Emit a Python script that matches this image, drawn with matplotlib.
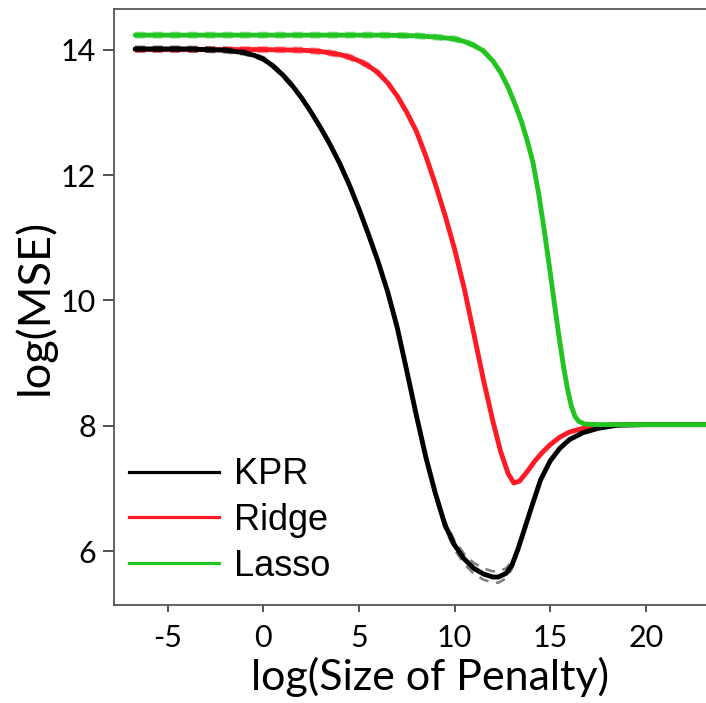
import matplotlib
matplotlib.use("Agg")
import matplotlib.pyplot as plt
import numpy as np

# ---- data ----
kpr_x = [-6.7, -5, -4, -3, -2, -1.5, -1, -0.5, 0, 0.5, 1, 1.5, 2, 2.5, 3, 3.5, 4, 4.5, 5, 5.5,
         6, 6.5, 7, 7.5, 8, 8.5, 9, 9.5, 10, 10.5, 11, 11.5, 12, 12.3, 12.7, 13, 13.3, 13.6,
         14, 14.5, 15, 15.5, 16, 16.7, 17.5, 18.5, 20, 23.3]
kpr_y = [14.01, 14.01, 14.01, 14.0, 13.99, 13.97, 13.95, 13.91, 13.85, 13.74, 13.6, 13.43, 13.23,
         13.0, 12.75, 12.48, 12.18, 11.84, 11.46, 11.05, 10.62, 10.14, 9.57, 8.88, 8.17, 7.5, 6.92,
         6.42, 6.1, 5.88, 5.73, 5.64, 5.59, 5.59, 5.65, 5.78, 6.02, 6.3, 6.68, 7.14, 7.44, 7.64,
         7.78, 7.89, 7.96, 8.01, 8.02, 8.02]
kpr_se = [0.035, 0.035, 0.035, 0.035, 0.035, 0.03, 0.03, 0.03, 0.03, 0.03, 0.03, 0.03, 0.02,
          0.02, 0.02, 0.02, 0.02, 0.02, 0.02, 0.02, 0.02, 0.02, 0.02, 0.02, 0.03, 0.04, 0.05,
          0.06, 0.07, 0.08, 0.085, 0.09, 0.09, 0.09, 0.08, 0.06, 0.04, 0.03, 0.02, 0.015, 0.01,
          0.01, 0.01, 0.01, 0.01, 0.01, 0.01, 0.01]

ridge_x = [-6.7, 0, 2, 3, 4, 4.5, 5, 5.5, 6, 6.5, 7, 7.5, 8, 8.5, 9, 9.5, 10, 10.5, 11, 11.5,
           12, 12.4, 12.8, 13.1, 13.4, 13.8, 14.2, 14.6, 15, 15.5, 16, 16.7, 17.5, 18.5, 23.3]
ridge_y = [14.0, 14.0, 13.99, 13.97, 13.92, 13.88, 13.82, 13.74, 13.63, 13.47, 13.26, 13.0, 12.7,
           12.3, 11.85, 11.36, 10.82, 10.2, 9.48, 8.75, 8.08, 7.6, 7.24, 7.09, 7.12, 7.27, 7.44,
           7.58, 7.7, 7.82, 7.9, 7.96, 8.0, 8.02, 8.02]
ridge_se = [0.035, 0.035, 0.035, 0.035, 0.035, 0.035, 0.035, 0.035, 0.035, 0.03, 0.03, 0.025,
            0.02, 0.02, 0.015, 0.015, 0.01, 0.01, 0.01, 0.01, 0.01, 0.01, 0.01, 0.01, 0.01, 0.01,
            0.01, 0.01, 0.01, 0.01, 0.01, 0.01, 0.01, 0.01, 0.01]

lasso_x = [-6.7, 6, 8, 9, 10, 10.5, 11, 11.5, 12, 12.4, 12.8, 13.2, 13.5, 13.8, 14.1, 14.4, 14.7,
           15.0, 15.2, 15.45, 15.7, 15.9, 16.1, 16.3, 16.5, 16.8, 17.5, 23.3]
lasso_y = [14.23, 14.23, 14.22, 14.2, 14.17, 14.13, 14.07, 13.98, 13.82, 13.64, 13.4, 13.1, 12.85,
           12.55, 12.2, 11.7, 11.1, 10.45, 10.0, 9.45, 8.94, 8.6, 8.32, 8.15, 8.07, 8.03, 8.02, 8.02]
lasso_se = [0.035, 0.035, 0.035, 0.035, 0.035, 0.035, 0.03, 0.03, 0.025, 0.02, 0.015, 0.01, 0.01,
            0.01, 0.01, 0.01, 0.01, 0.01, 0.01, 0.01, 0.01, 0.01, 0.01, 0.01, 0.01, 0.01, 0.01, 0.01]

labels = ["KPR", "Ridge", "Lasso"]
colors = ["#000000", "#ff1a26", "#22c422"]
z_order = [4, 3, 5]

x_ticks = [-5, 0, 5, 10, 15, 20]
y_ticks = [6, 8, 10, 12, 14]

# ---- figure ----
fig = plt.figure(figsize=(7.06, 7.03), dpi=100)
ax = fig.add_axes([114 / 706, (703 - 605) / 703, 1 - 114 / 706, (605 - 9.3) / 703])

series = [(kpr_x, kpr_y, kpr_se), (ridge_x, ridge_y, ridge_se), (lasso_x, lasso_y, lasso_se)]
for (xs, ys, se), c, z in zip(series, colors, z_order):
    xs = np.array(xs); ys = np.array(ys); se = np.array(se)
    ax.plot(xs, ys, color=c, lw=3.5, solid_capstyle="round", solid_joinstyle="round", zorder=z)
    for sgn in (1, -1):
        ax.plot(xs, ys + sgn * se, color=c, lw=1.8, ls=(0, (4, 3)), alpha=0.5, zorder=z + 0.5)

handles = [plt.Line2D([], [], color=c, lw=2.3) for c in colors]
leg = ax.legend(handles, labels, loc="lower left", bbox_to_anchor=(-0.017, -0.007),
                frameon=False, prop={"family": "Liberation Sans", "size": 26},
                handlelength=2.5, handletextpad=0.4, labelspacing=0.3, borderaxespad=0.3)

ax.set_xlim(-7.81, 23.15)
ax.set_ylim(5.144, 14.642)
ax.set_xticks(x_ticks)
ax.set_yticks(y_ticks)
ax.set_xticklabels([str(v) for v in x_ticks], family="Lato", fontsize=22)
ax.set_yticklabels([str(v) for v in y_ticks], family="Lato", fontsize=22)
ax.tick_params(axis="x", direction="out", length=5, width=1.2, color="#333333", pad=9)
ax.tick_params(axis="y", direction="out", length=8, width=1.2, color="#333333", pad=5)
for s in ["left", "bottom", "top"]:
    ax.spines[s].set_color("#555555")
    ax.spines[s].set_linewidth(1.3)
ax.spines["right"].set_visible(False)

ax.set_xlabel("log(Size of Penalty)", family="Lato", fontsize=31, labelpad=3)
ax.xaxis.label.set_x((430 - 114) / 592)
ax.set_ylabel("log(MSE)", family="Lato", fontsize=32.5, labelpad=4)

fig.savefig("out.png", dpi=100)
